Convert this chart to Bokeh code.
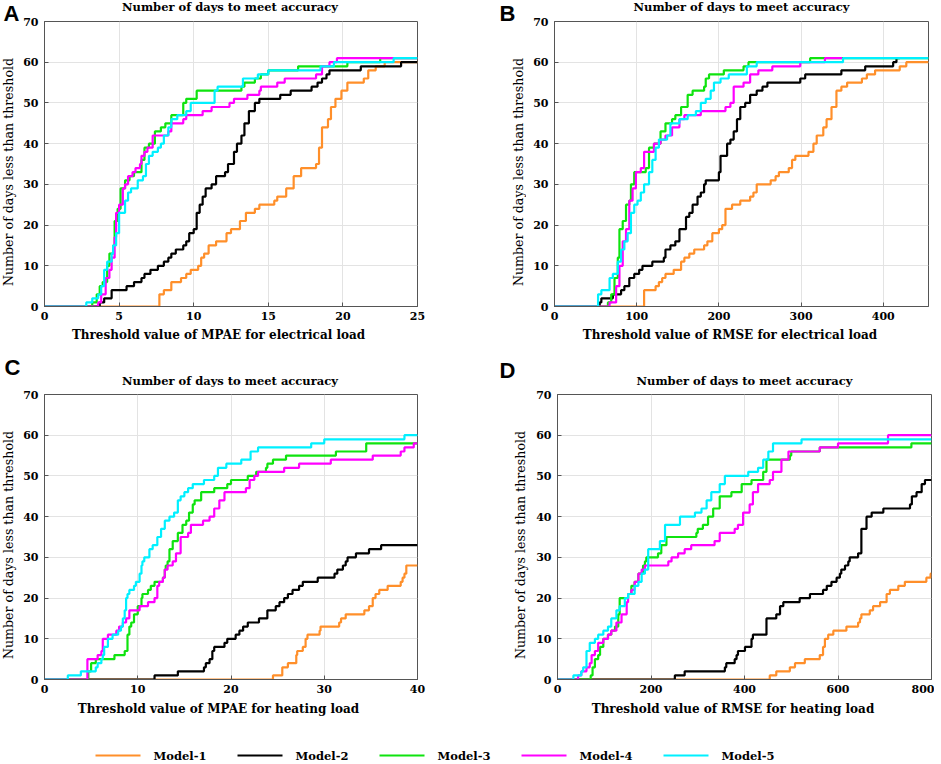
import math
from bokeh.plotting import figure
from bokeh.models import Range1d, FixedTicker
from bokeh.layouts import column, row
from bokeh.core.properties import value
from bokeh.embed import file_html
from bokeh.resources import INLINE

MODELS = ["Model-1", "Model-2", "Model-3", "Model-4", "Model-5"]
COLORS = ["#FF8F2A", "#000000", "#0FE30F", "#FF00FF", "#00F0FF"]
TITLE = "Number of days to meet accuracy"
YLABEL = "Number of days less than threshold"
LETTERS = ["A", "B", "C", "D"]
XLABELS = ["Threshold value of MPAE for electrical load",
           "Threshold value of RMSE for electrical load",
           "Threshold value of MPAE for heating load",
           "Threshold value of RMSE for heating load"]
XMAX = [25, 455, 40, 800]
XTICKS = [[0, 5, 10, 15, 20, 25], [0, 100, 200, 300, 400],
          [0, 10, 20, 30, 40], [0, 200, 400, 600, 800]]
YTICKS = [0, 10, 20, 30, 40, 50, 60, 70]

# ---- Panel A: MPAE electrical (x = threshold, y = days) ----
A1_x = [0, 7.7, 8.0, 8.5, 9.15, 9.5, 9.8, 10.3, 10.5, 10.7, 11.0, 11.5, 12.2, 12.5, 13.1, 13.5, 14.1, 14.4, 15.4, 15.6, 16.2, 16.7, 17.2, 18.2, 18.4, 18.6, 19.0, 19.2, 19.5, 19.9, 20.3, 21.4, 21.7, 22.2, 22.8, 25]
A1_y = [0, 3, 4, 6, 7, 8, 9, 10, 12, 13, 15, 16, 18, 19, 21, 23, 24, 25, 26, 27, 29, 32, 34, 35, 39, 44, 46, 49, 51, 53, 55, 56, 58, 59, 60, 60]
A2_x = [0, 3.7, 4.0, 4.5, 5.5, 6.0, 6.5, 6.7, 7.1, 7.6, 8.0, 8.3, 8.5, 8.8, 9.3, 9.5, 9.7, 10.0, 10.2, 10.4, 10.6, 10.8, 11.2, 11.5, 12.1, 12.3, 12.7, 12.9, 13.2, 13.4, 13.7, 14.1, 14.4, 15.8, 16.5, 17.9, 18.3, 18.6, 18.9, 19.1, 21.2, 23.9, 25]
A2_y = [0, 1, 2, 4, 5, 6, 7, 8, 9, 10, 11, 12, 13, 14, 15, 16, 18, 19, 23, 25, 27, 29, 30, 32, 33, 35, 38, 40, 42, 45, 48, 50, 51, 52, 53, 54, 55, 56, 57, 58, 59, 60, 60]
A3_x = [0, 3.2, 3.5, 3.7, 3.9, 4.2, 4.35, 4.6, 4.7, 4.9, 5.1, 5.4, 5.7, 6.0, 6.5, 6.7, 7.0, 7.4, 7.8, 8.1, 8.5, 9.3, 9.5, 10.2, 13.2, 13.4, 14.1, 14.5, 15.0, 17.0, 20.3, 22.5, 25]
A3_y = [0, 1, 3, 5, 6, 10, 13, 15, 21, 24, 29, 31, 32, 33, 36, 39, 40, 43, 44, 45, 47, 50, 51, 53, 54, 55, 56, 57, 58, 59, 60, 61, 61]
A4_x = [0, 3.6, 3.8, 4.1, 4.35, 4.5, 4.7, 4.8, 5.0, 5.25, 5.4, 5.6, 5.9, 6.1, 6.4, 6.5, 6.7, 6.9, 7.25, 8.3, 8.5, 9.3, 9.5, 10.6, 11.2, 12.4, 12.7, 13.6, 14.4, 14.5, 15.6, 16.1, 18.2, 18.6, 19.1, 19.6, 25]
A4_y = [0, 1, 3, 7, 9, 12, 17, 23, 25, 29, 30, 32, 33, 34, 35, 37, 38, 39, 42, 43, 45, 46, 47, 48, 49, 50, 51, 52, 53, 54, 55, 56, 57, 59, 60, 61, 61]
A5_x = [0, 2.8, 3.2, 3.6, 3.8, 4.0, 4.2, 4.5, 4.6, 4.8, 5.0, 5.4, 5.6, 5.8, 6.25, 6.6, 6.8, 7.0, 7.25, 7.6, 7.8, 8.0, 8.3, 8.5, 8.9, 9.5, 9.8, 11.4, 11.6, 13.3, 14.3, 15.0, 18.5, 19.4, 23.4, 25]
A5_y = [0, 1, 2, 3, 5, 9, 11, 13, 15, 18, 23, 26, 28, 29, 31, 32, 35, 37, 38, 39, 40, 42, 44, 46, 47, 48, 50, 53, 54, 56, 57, 58, 59, 60, 61, 61]

# ---- Panel B: RMSE electrical ----
B1_x = [0, 109, 123, 127, 131, 135, 145, 154, 158, 164, 170, 182, 186, 192, 200, 204, 208, 216, 226, 238, 242, 246, 263, 269, 273, 285, 289, 293, 309, 315, 319, 327, 331, 337, 343, 349, 356, 374, 380, 390, 420, 428, 455]
B1_y = [0, 4, 5, 6, 7, 8, 9, 11, 12, 13, 14, 15, 16, 18, 19, 20, 24, 25, 26, 27, 28, 30, 31, 32, 33, 34, 36, 37, 38, 40, 42, 44, 46, 49, 53, 54, 55, 56, 57, 58, 59, 60, 60]
B2_x = [0, 55, 57, 71, 81, 85, 91, 97, 103, 107, 119, 133, 135, 141, 147, 152, 160, 164, 168, 174, 178, 182, 184, 200, 202, 210, 214, 218, 222, 226, 232, 238, 246, 253, 259, 299, 305, 349, 378, 412, 416, 420]
B2_y = [0, 1, 2, 3, 4, 5, 7, 8, 9, 10, 11, 12, 14, 15, 16, 19, 22, 23, 25, 27, 28, 30, 31, 33, 37, 40, 41, 43, 46, 49, 50, 52, 53, 54, 55, 56, 57, 58, 59, 60, 61, 61]
B3_x = [0, 65, 69, 73, 77, 79, 83, 87, 91, 93, 97, 111, 115, 121, 129, 135, 143, 147, 154, 162, 168, 182, 184, 188, 206, 230, 236, 311, 455]
B3_y = [0, 1, 3, 7, 12, 19, 21, 25, 26, 30, 33, 34, 39, 40, 43, 45, 46, 47, 49, 52, 53, 54, 56, 57, 58, 59, 60, 61, 61]
B4_x = [0, 67, 75, 79, 83, 87, 91, 95, 99, 105, 109, 121, 129, 135, 143, 152, 158, 178, 208, 214, 218, 230, 238, 248, 265, 299, 329, 350]
B4_y = [0, 1, 5, 10, 16, 19, 26, 29, 33, 34, 38, 40, 41, 42, 44, 46, 47, 48, 49, 50, 54, 55, 57, 58, 59, 60, 61, 61]
B5_x = [0, 53, 57, 67, 71, 77, 81, 85, 89, 93, 97, 101, 105, 109, 115, 119, 123, 127, 137, 141, 152, 162, 172, 178, 184, 190, 194, 202, 212, 234, 246, 351, 455]
B5_y = [0, 3, 4, 7, 8, 11, 14, 16, 18, 23, 25, 26, 28, 30, 33, 36, 39, 41, 42, 45, 46, 47, 48, 50, 51, 53, 55, 56, 57, 59, 60, 61, 61]

# ---- Panel C: MPAE heating ----
C1_x = [0, 24.5, 25.5, 26.1, 27.0, 27.1, 27.7, 28.0, 28.2, 29.5, 29.6, 31.6, 31.8, 32.3, 34.3, 34.8, 35.2, 35.5, 35.9, 36.8, 38.2, 38.4, 38.6, 38.8, 40]
C1_y = [0, 1, 3, 4, 6, 7, 8, 10, 11, 12, 13, 14, 15, 16, 17, 18, 20, 21, 22, 23, 24, 25, 26, 28, 28]
C2_x = [0, 11.8, 14.3, 17.1, 17.3, 17.7, 18.0, 18.2, 19.3, 19.6, 20.5, 20.9, 21.3, 21.8, 23.0, 23.9, 24.8, 25.2, 25.7, 26.1, 26.6, 27.3, 27.7, 29.3, 31.1, 31.4, 32.0, 32.3, 32.5, 33.4, 34.8, 36.1, 40]
C2_y = [0, 1, 2, 3, 4, 5, 7, 8, 9, 10, 11, 12, 13, 14, 15, 17, 18, 19, 20, 21, 22, 23, 24, 25, 26, 27, 28, 29, 30, 31, 32, 33, 33]
C3_x = [0, 4.7, 5.0, 5.5, 7.5, 8.6, 8.9, 9.1, 9.3, 9.6, 10.0, 10.4, 10.5, 11.1, 11.4, 11.8, 12.7, 12.9, 13.0, 13.2, 13.4, 13.75, 14.3, 14.8, 15.2, 15.5, 15.9, 16.1, 16.8, 18.2, 19.6, 20.0, 21.8, 22.7, 23.75, 23.9, 24.5, 25.9, 31.25, 34.5, 40]
C3_y = [0, 2, 4, 5, 6, 7, 11, 13, 14, 16, 18, 20, 21, 22, 23, 24, 25, 27, 28, 29, 32, 34, 36, 38, 39, 41, 43, 44, 46, 47, 48, 49, 50, 51, 52, 53, 54, 55, 56, 58, 58]
C4_x = [0, 4.6, 5.7, 6.1, 6.25, 6.8, 7.7, 8.0, 8.4, 8.75, 9.1, 10.2, 11.1, 11.8, 12.1, 12.3, 12.7, 12.9, 13.2, 13.75, 14.1, 14.6, 15.4, 15.7, 17.0, 17.7, 18.2, 18.75, 19.3, 21.6, 22.0, 22.5, 22.9, 25.7, 27.3, 30.7, 35.2, 38.2, 38.6, 39.6, 40]
C4_y = [0, 5, 6, 7, 10, 11, 12, 13, 14, 15, 17, 18, 19, 20, 23, 24, 25, 27, 28, 29, 31, 35, 36, 38, 39, 40, 42, 44, 46, 47, 49, 50, 51, 52, 53, 54, 55, 56, 57, 58, 58]
C5_x = [0, 2.5, 3.9, 5.5, 5.7, 6.1, 6.25, 6.4, 6.8, 7.3, 7.9, 8.2, 8.4, 8.6, 8.75, 8.9, 9.1, 9.6, 9.8, 10.2, 10.4, 10.5, 10.7, 11.25, 11.6, 12.1, 12.5, 12.9, 13.4, 13.9, 14.3, 14.6, 15.0, 15.4, 15.9, 17.1, 18.2, 18.6, 19.5, 21.1, 22.1, 22.9, 28.6, 30.0, 38.6, 40]
C5_y = [0, 1, 2, 3, 4, 5, 6, 8, 10, 11, 12, 13, 15, 17, 20, 21, 22, 23, 24, 26, 28, 29, 30, 32, 33, 35, 37, 39, 40, 41, 44, 45, 46, 47, 48, 49, 50, 52, 53, 54, 56, 57, 58, 59, 60, 60]

# ---- Panel D: RMSE heating ----
D1_x = [0, 454, 468, 497, 508, 529, 561, 568, 572, 579, 590, 618, 643, 647, 650, 668, 675, 690, 704, 711, 729, 743, 789, 798, 800]
D1_y = [0, 1, 2, 3, 4, 5, 6, 8, 10, 11, 12, 13, 14, 15, 16, 17, 18, 19, 21, 22, 23, 24, 25, 26, 26]
D2_x = [0, 251, 272, 358, 361, 379, 383, 386, 401, 415, 418, 447, 468, 476, 483, 518, 540, 568, 576, 586, 597, 604, 607, 615, 622, 625, 643, 650, 661, 672, 697, 754, 758, 768, 779, 786, 800]
D2_y = [0, 1, 2, 3, 4, 5, 6, 7, 8, 10, 11, 15, 16, 18, 19, 20, 21, 22, 23, 24, 25, 26, 27, 28, 29, 30, 31, 37, 40, 41, 42, 43, 45, 46, 48, 49, 49]
D3_x = [0, 71, 75, 80, 87, 91, 98, 108, 115, 123, 130, 133, 151, 158, 165, 173, 183, 187, 190, 215, 222, 233, 297, 300, 311, 322, 333, 347, 372, 394, 415, 440, 447, 497, 500, 561, 757, 800]
D3_y = [0, 1, 3, 5, 6, 8, 10, 11, 12, 13, 16, 20, 21, 23, 24, 26, 28, 29, 30, 31, 33, 35, 36, 37, 38, 40, 42, 45, 46, 48, 49, 51, 54, 55, 56, 57, 58, 58]
D4_x = [0, 44, 51, 62, 69, 73, 80, 87, 98, 108, 115, 126, 137, 148, 151, 158, 165, 173, 180, 187, 237, 244, 258, 272, 286, 336, 347, 379, 386, 397, 411, 418, 429, 454, 461, 479, 494, 561, 600, 707, 800]
D4_y = [0, 1, 2, 3, 4, 6, 7, 9, 10, 11, 12, 14, 16, 19, 21, 22, 24, 26, 27, 28, 29, 30, 31, 32, 33, 34, 36, 37, 38, 41, 43, 46, 48, 49, 51, 54, 56, 57, 58, 60, 60]
D5_x = [0, 34, 51, 55, 62, 69, 80, 87, 98, 108, 115, 126, 133, 144, 151, 165, 173, 180, 187, 194, 219, 230, 262, 294, 308, 319, 329, 347, 358, 408, 429, 440, 451, 461, 522, 800]
D5_y = [0, 1, 2, 3, 7, 9, 10, 11, 12, 13, 15, 17, 18, 20, 21, 23, 24, 26, 27, 32, 34, 38, 40, 41, 42, 44, 46, 48, 50, 51, 52, 54, 56, 58, 59, 59]

PANELS = [
    [(A1_x, A1_y), (A2_x, A2_y), (A3_x, A3_y), (A4_x, A4_y), (A5_x, A5_y)],
    [(B1_x, B1_y), (B2_x, B2_y), (B3_x, B3_y), (B4_x, B4_y), (B5_x, B5_y)],
    [(C1_x, C1_y), (C2_x, C2_y), (C3_x, C3_y), (C4_x, C4_y), (C5_x, C5_y)],
    [(D1_x, D1_y), (D2_x, D2_y), (D3_x, D3_y), (D4_x, D4_y), (D5_x, D5_y)],
]

SERIF = "DejaVu Serif"
FRAME_C = "#555555"
FH = 285

# geometry (pixels)
#   left/right: panel side borders, fw: frame width, top/bottom: panel borders
#   th: title strip height, xh: x-label strip height, side: left strip width
#   ty / xy: vertical centre of title / x-label text inside their strips
GEOM = [
    dict(left=23, fw=373, right=74, top=7, bottom=20, th=14, ty=7.5, xh=19, xy=10.5,
         side=20, ylx=8, letx=3, lety=12.5),
    dict(left=28, fw=374, right=6, top=7, bottom=20, th=14, ty=7.5, xh=19, xy=10.5,
         side=35, ylx=27, letx=8, lety=12.5),
    dict(left=23, fw=373, right=74, top=7, bottom=20, th=42, ty=6.5, xh=20, xy=11,
         side=20, ylx=8, letx=4, lety=22),
    dict(left=28, fw=374, right=3, top=7, bottom=20, th=42, ty=6.5, xh=20, xy=11,
         side=38, ylx=29, letx=8, lety=25),
]
XLAB_DX = -11.5


def strip(width, height):
    s = figure(width=width, height=height, x_range=Range1d(0, width), y_range=Range1d(0, height),
               output_backend="svg", toolbar_location=None, min_border=0,
               outline_line_color=None, background_fill_color="white",
               border_fill_color="white", frame_align=False)
    s.axis.visible = False
    s.grid.visible = False
    return s


def make_panel(i):
    g = GEOM[i]
    p = figure(frame_width=g["fw"], frame_height=FH,
               min_border_left=g["left"], min_border_right=g["right"],
               min_border_top=g["top"], min_border_bottom=g["bottom"],
               x_range=Range1d(0, XMAX[i]), y_range=Range1d(0, 70),
               output_backend="svg", toolbar_location=None, frame_align=False,
               background_fill_color="white", border_fill_color="white")
    p.outline_line_color = FRAME_C
    p.outline_line_width = 1
    for k, (xs, ys) in enumerate(PANELS[i]):
        p.step(xs, ys, mode="after", line_color=COLORS[k], line_width=2.2)
    p.xaxis.ticker = FixedTicker(ticks=XTICKS[i])
    p.yaxis.ticker = FixedTicker(ticks=YTICKS)
    for ax in (p.xaxis[0], p.yaxis[0]):
        ax.major_tick_in = 4
        ax.major_tick_out = 0
        ax.minor_tick_line_color = None
        ax.axis_line_color = FRAME_C
        ax.major_tick_line_color = FRAME_C
        ax.major_label_text_font = SERIF
        ax.major_label_text_font_style = "bold"
        ax.major_label_text_font_size = "11px"
        ax.major_label_text_color = "black"
    p.xaxis.major_label_standoff = 5
    p.yaxis.major_label_standoff = 6
    p.grid.grid_line_color = "#e3e3e3"
    p.grid.grid_line_width = 1

    width = g["left"] + g["fw"] + g["right"]
    fcx = g["left"] + g["fw"] / 2
    ts = strip(width, g["th"])
    ts.text(x=[fcx], y=[g["ty"]], text=[TITLE], text_font=value(SERIF), text_font_style="bold",
            text_font_size="11.5px", text_align="center", text_baseline="middle",
            text_color="black")
    xs_ = strip(width, g["xh"])
    xs_.text(x=[fcx + XLAB_DX], y=[g["xy"]], text=[XLABELS[i]], text_font=value(SERIF),
             text_font_style="bold", text_font_size="12px", text_align="center",
             text_baseline="middle", text_color="black")
    return column(ts, p, xs_)


def make_side(i, height):
    g = GEOM[i]
    s = strip(g["side"], height)
    s.text(x=[g["letx"]], y=[height - g["lety"]], text=[LETTERS[i]],
           text_font=value("Liberation Sans"), text_font_style="bold",
           text_font_size="22px", text_baseline="middle", text_align="left",
           text_color="black")
    frame_mid = height - (g["th"] + g["top"] + FH / 2) - 8
    s.text(x=[g["ylx"]], y=[frame_mid], text=[YLABEL], angle=math.pi / 2,
           text_font=value(SERIF), text_font_style="normal", text_font_size="12.6px",
           text_baseline="middle", text_align="center", text_color="black")
    return s


panels = [make_panel(i) for i in range(4)]
H = [g["th"] + g["top"] + FH + g["bottom"] + g["xh"] for g in GEOM]
sides = [make_side(i, H[i]) for i in range(4)]

# legend strip
LEG_W, LEG_H = 933, 43
leg = strip(LEG_W, LEG_H)
x_start, spacing, seg_len, txt_off, ly = 95, 142, 45, 58, 7
xs0 = [x_start + k * spacing for k in range(len(MODELS))]
leg.segment(x0=xs0, y0=[ly] * len(MODELS), x1=[x + seg_len for x in xs0], y1=[ly] * len(MODELS),
            line_color=COLORS, line_width=2)
leg.text(x=[x + txt_off for x in xs0], y=[ly] * len(MODELS), text=MODELS,
         text_font=value(SERIF), text_font_style="bold", text_font_size="11.5px",
         text_baseline="middle", text_align="left", text_color="black")

root = column(row(sides[0], panels[0], sides[1], panels[1]),
              row(sides[2], panels[2], sides[3], panels[3]),
              leg)

open("out.html", "w").write(file_html(root, INLINE))
